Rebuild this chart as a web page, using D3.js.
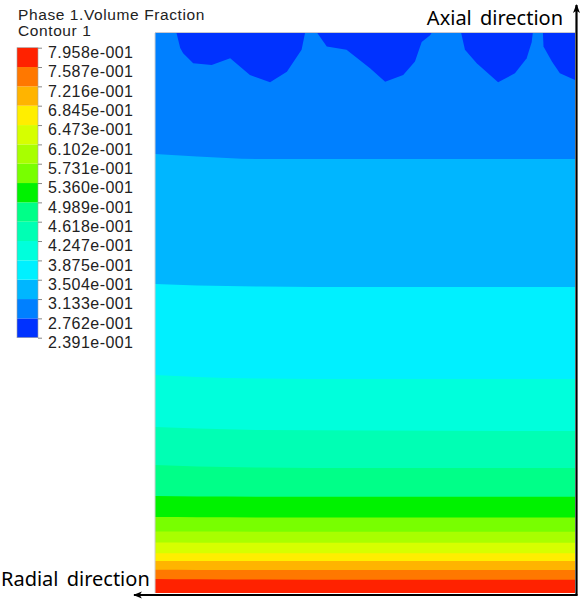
<!DOCTYPE html>
<html>
<head>
<meta charset="utf-8">
<script src="https://cdn.jsdelivr.net/npm/d3@7/dist/d3.min.js"></script>
<style>
  html, body { margin: 0; padding: 0; background: #fff; }
  svg { display: block; }
</style>
</head>
<body>
<svg id="chart" width="582" height="599"></svg>
<script>
// ---- DATA ----
const legendTitle = "Phase 1.Volume Fraction";
const legendSubtitle = "Contour 1";
const levels = [0.2391, 0.2762, 0.3133, 0.3504, 0.3875, 0.4247, 0.4618, 0.4989,
                0.5360, 0.5731, 0.6102, 0.6473, 0.6845, 0.7216, 0.7587, 0.7958];
const tickLabels = ["2.391e-001", "2.762e-001", "3.133e-001", "3.504e-001", "3.875e-001",
                    "4.247e-001", "4.618e-001", "4.989e-001", "5.360e-001", "5.731e-001",
                    "6.102e-001", "6.473e-001", "6.845e-001", "7.216e-001", "7.587e-001", "7.958e-001"];
const bandColors = ["#0032ff", "#0080ff", "#00b6ff", "#00f0ff", "#00ffdc", "#00ffb4", "#00ff88",
                    "#00f200", "#78ff00", "#a8ff00", "#d6ff00", "#ffee00", "#ffb400", "#ff7800", "#ff2200"];

// radial sample positions (normalized, 0 = axis at right, 1 = outer wall at left)
const radialSamples = [1, 0.9, 0.75, 0.5, 0];
// axial position (normalized) of each contour level isoline at radialSamples
const isoLevels = [0.3133, 0.3504, 0.3875, 0.4247, 0.4618, 0.4989, 0.5360,
                   0.5731, 0.6102, 0.6473, 0.6845, 0.7216, 0.7587];
const isoAxial = [
  [0.7840, 0.7795, 0.7750, 0.7750, 0.7750],
  [0.5518, 0.5490, 0.5473, 0.5464, 0.5464],
  [0.3893, 0.3857, 0.3830, 0.3821, 0.3821],
  [0.2964, 0.2938, 0.2911, 0.2902, 0.2893],
  [0.2286, 0.2259, 0.2241, 0.2232, 0.2232],
  [0.1732, 0.1723, 0.1720, 0.1720, 0.1720],
  [0.1355, 0.1352, 0.1350, 0.1350, 0.1350],
  [0.1100, 0.1097, 0.1095, 0.1095, 0.1095],
  [0.0900, 0.0898, 0.0898, 0.0898, 0.0896],
  [0.0712, 0.0710, 0.0709, 0.0709, 0.0709],
  [0.0573, 0.0571, 0.0571, 0.0571, 0.0571],
  [0.0415, 0.0412, 0.0411, 0.0411, 0.0411],
  [0.0250, 0.0245, 0.0240, 0.0236, 0.0235]
];
// low-fraction (2.391-2.762) regions at the top outlet: [radial, axial]
const lowPatches = [
  [[0.952,1.0],[0.940,0.973],[0.933,0.964],[0.909,0.946],[0.865,0.943],[0.821,0.955],
   [0.774,0.925],[0.726,0.912],[0.686,0.931],[0.651,0.970],[0.640,1.0]],
  [[0.623,1.0],[0.591,0.976],[0.544,0.970],[0.488,0.937],[0.452,0.913],[0.409,0.925],
   [0.381,0.949],[0.365,0.984],[0.345,0.996],[0.333,1.0]],
  [[0.274,1.0],[0.262,0.970],[0.234,0.946],[0.183,0.912],[0.143,0.928],[0.115,0.955],
   [0.103,0.984],[0.099,1.0]],
  [[0.077,1.0],[0.075,0.976],[0.055,0.949],[0.036,0.928],[0.0,0.916],[0.0,1.0]]
];
const axialLabel = "Axial direction";
const radialLabel = "Radial direction";

// ---- DRAW ----
const svg = d3.select("#chart");
const plot = { left: 155, right: 575, top: 33, bottom: 593 };

const x = d3.scaleLinear().domain([0, 1]).range([plot.right, plot.left]);
const y = d3.scaleLinear().domain([0, 1]).range([plot.bottom, plot.top]);

const defs = svg.append("defs");
defs.append("clipPath").attr("id", "plotClip")
  .append("rect").attr("x", plot.left).attr("y", plot.top)
  .attr("width", plot.right - plot.left).attr("height", plot.bottom - plot.top);

const g = svg.append("g").attr("clip-path", "url(#plotClip)");

// base band (2.762 - 3.133)
g.append("rect").attr("x", plot.left).attr("y", plot.top)
  .attr("width", plot.right - plot.left).attr("height", plot.bottom - plot.top)
  .attr("fill", bandColors[1]);

const area = d3.area()
  .x(d => x(d[0]))
  .y0(y(0) + 2)
  .y1(d => y(d[1]))
  .curve(d3.curveMonotoneX);

isoLevels.forEach((lv, k) => {
  const pts = radialSamples.map((r, i) => [r, isoAxial[k][i]]);
  const bandIdx = levels.indexOf(lv);
  g.append("path").attr("d", area(pts)).attr("fill", bandColors[bandIdx]);
});

const line = d3.line().x(d => x(d[0])).y(d => y(d[1]));
lowPatches.forEach(p => {
  const pts = p.map(d => [d[0], d[1] === 1 ? 1.01 : d[1]]);
  g.append("path").attr("d", line(pts) + "Z").attr("fill", bandColors[0]);
});

// thin plot frame
svg.append("line").attr("x1", plot.left).attr("x2", plot.left)
  .attr("y1", plot.top).attr("y2", plot.bottom)
  .attr("stroke", "#d0d0d0").attr("stroke-width", 1);
svg.append("line").attr("x1", plot.left).attr("x2", plot.right)
  .attr("y1", plot.top - 0.5).attr("y2", plot.top - 0.5)
  .attr("stroke", "#c8c8d0").attr("stroke-width", 1);

// arrows
defs.append("marker").attr("id", "arrow")
  .attr("viewBox", "0 0 10 10").attr("refX", 9).attr("refY", 5)
  .attr("markerWidth", 4).attr("markerHeight", 4)
  .attr("markerUnits", "strokeWidth")
  .attr("orient", "auto")
  .append("path").attr("d", "M0,1 L10,5 L0,9 L2.5,5 Z").attr("fill", "#000");

svg.append("line")
  .attr("x1", plot.right + 1.5).attr("y1", plot.bottom + 2.5)
  .attr("x2", plot.right + 1.5).attr("y2", 5)
  .attr("stroke", "#000").attr("stroke-width", 2.2)
  .attr("marker-end", "url(#arrow)");
svg.append("line")
  .attr("x1", plot.right + 2.5).attr("y1", plot.bottom + 2)
  .attr("x2", 134).attr("y2", plot.bottom + 2)
  .attr("stroke", "#000").attr("stroke-width", 2.2)
  .attr("marker-end", "url(#arrow)");

svg.append("text").attr("x", 563).attr("y", 25)
  .attr("text-anchor", "end")
  .attr("font-family", "'Noto Sans', sans-serif").attr("font-size", 20)
  .attr("word-spacing", 3)
  .attr("fill", "#000").text(axialLabel);
svg.append("text").attr("x", 1).attr("y", 586)
  .attr("text-anchor", "start")
  .attr("font-family", "'Noto Sans', sans-serif").attr("font-size", 20)
  .attr("word-spacing", 3)
  .attr("fill", "#000").text(radialLabel);

// ---- LEGEND ----
const lg = svg.append("g");
const ly = d3.scaleLinear().domain([levels[0], levels[levels.length - 1]]).range([337.7, 47.7]);
const lbar = { x: 17, w: 21 };

lg.append("text").attr("x", 18).attr("y", 20)
  .attr("font-family", "'Liberation Sans', Arial, sans-serif").attr("font-size", 15.5)
  .attr("letter-spacing", 0.6)
  .attr("fill", "#222").text(legendTitle);
lg.append("text").attr("x", 18).attr("y", 35.5)
  .attr("font-family", "'Liberation Sans', Arial, sans-serif").attr("font-size", 15.5)
  .attr("letter-spacing", 0.6)
  .attr("fill", "#222").text(legendSubtitle);

lg.selectAll("rect.band").data(d3.range(levels.length - 1)).enter()
  .append("rect").attr("class", "band")
  .attr("x", lbar.x).attr("width", lbar.w)
  .attr("y", i => ly(levels[i + 1]))
  .attr("height", i => ly(levels[i]) - ly(levels[i + 1]))
  .attr("fill", i => bandColors[i]);
lg.append("rect").attr("x", lbar.x).attr("width", lbar.w)
  .attr("y", ly(levels[levels.length - 1])).attr("height", ly(levels[0]) - ly(levels[levels.length - 1]))
  .attr("fill", "none").attr("stroke", "#a0a0a0").attr("stroke-width", 0.6);

const axis = d3.axisRight(ly).tickValues(levels)
  .tickFormat((d, i) => tickLabels[i]).tickSize(4).tickPadding(6);
const ag = lg.append("g").attr("transform", `translate(${lbar.x + lbar.w},0)`).call(axis);
ag.select(".domain").remove();
ag.selectAll(".tick line").attr("stroke", "#888");
ag.selectAll(".tick text")
  .attr("font-family", "'Liberation Sans', Arial, sans-serif").attr("font-size", 16)
  .attr("letter-spacing", 0.45)
  .attr("fill", "#222").attr("dy", "0.62em");
</script>
</body>
</html>
